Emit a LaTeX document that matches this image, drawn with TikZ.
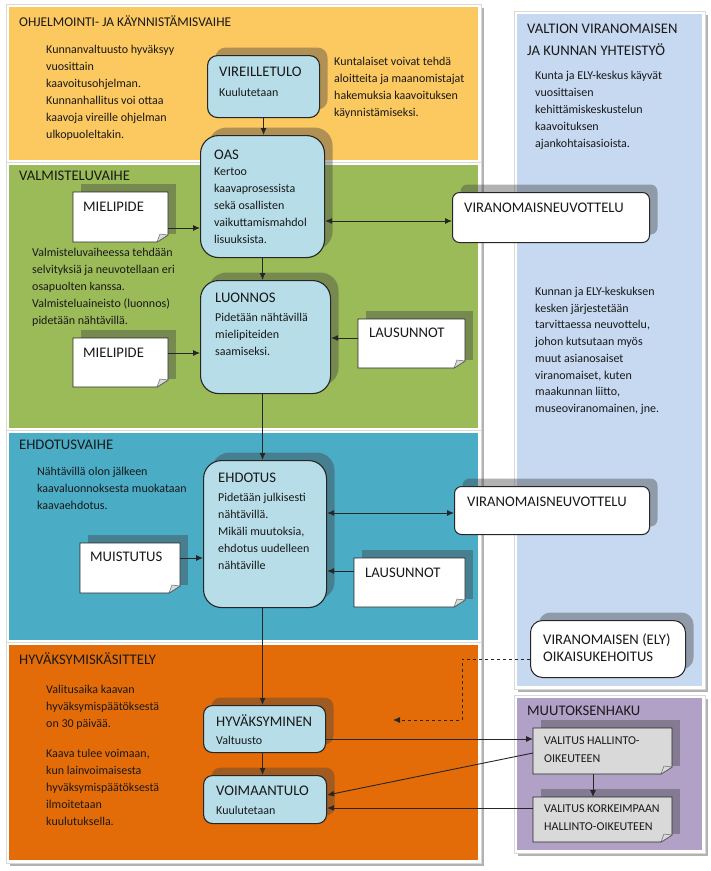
\documentclass[tikz,border=0pt]{standalone}
\usepackage{fontspec}
\setmainfont{Carlito}
\usetikzlibrary{arrows.meta,shadows}
\definecolor{cYel}{RGB}{252,200,96}
\definecolor{cGrn}{RGB}{155,187,89}
\definecolor{cTeal}{RGB}{75,172,198}
\definecolor{cOra}{RGB}{227,108,9}
\definecolor{cLB}{RGB}{198,217,241}
\definecolor{cPur}{RGB}{178,161,199}
\definecolor{cNode}{RGB}{183,221,232}
\definecolor{cNote}{RGB}{217,217,217}
\tikzset{
  every node/.style={inner sep=0pt, text=black!90},
  shd/.style={general shadow={fill=black!75, opacity=0.4, shadow xshift=8pt, shadow yshift=8pt}},
  procbox/.style={draw=black!85, line width=1.1pt, fill=cNode, anchor=north west, shd},
  whitebox/.style={draw=black!85, line width=1pt, fill=white, anchor=north west, shd},
  ttl/.style={font=\fontsize{14.67}{21}\selectfont, anchor=west},
  ntl/.style={font=\fontsize{14.67}{17}\selectfont, anchor=west},
  smalltxt/.style={font=\fontsize{12}{17}\selectfont, anchor=west},
  bodytxt/.style={font=\fontsize{12}{17}\selectfont, align=left, anchor=north west},
  arr/.style={-{Latex[length=7pt,width=6pt]}, line width=0.9pt, draw=black!85},
  darr/.style={{Latex[length=7pt,width=6pt]}-{Latex[length=7pt,width=6pt]}, line width=0.9pt, draw=black!85},
}
\newcommand\panelbox[5]{%
  \fill[black!30] (#1+1,#2+1) rectangle (#3+6,#4+6);
  \filldraw[fill=white, draw=black!15, line width=0.6pt] (#1-3,#2-3) rectangle (#3+3,#4+3);
  \fill[#5] (#1,#2) rectangle (#3,#4);
}
\newcommand\foldnote[6]{%
  \fill[black!75, opacity=0.4] (#2+8,#3-8) rectangle (#4+8,#5-8);
  \node[anchor=north west, minimum width={#4-#2}, minimum height={#5-#3}] (#1) at (#2,#3) {};
  \filldraw[fill=#6, draw=black!85, line width=0.9pt] (#2,#3) -- (#4,#3) -- (#4,#5-7) -- (#4-11,#5) -- (#2,#5) -- cycle;
  \filldraw[fill=black!15, draw=black!60, line width=0.5pt] (#4,#5-7) -- (#4-11,#5) -- (#4-8,#5-8) -- cycle;
}
\begin{document}
\begin{tikzpicture}[x=1pt,y=-1pt]
\useasboundingbox (0,0) rectangle (711,871);
\fill[white] (0,0) rectangle (711,871);
% panels
\panelbox{9}{7}{478}{160}{cYel}
\panelbox{9}{165}{478}{428}{cGrn}
\panelbox{9}{433}{478}{640}{cTeal}
\panelbox{9}{645}{478}{860}{cOra}
\panelbox{517}{14}{702}{686}{cLB}
\panelbox{517}{698}{702}{850}{cPur}
% process boxes
\node[procbox, rounded corners=10pt, minimum width=112pt, minimum height=62pt] (vir) at (207,55) {};
\node[procbox, rounded corners=18pt, minimum width=124pt, minimum height=122pt] (oas) at (200,135) {};
\node[procbox, rounded corners=18pt, minimum width=130pt, minimum height=113pt] (lu) at (200,280) {};
\node[procbox, rounded corners=18pt, minimum width=123pt, minimum height=147pt] (eh) at (203,460) {};
\node[procbox, rounded corners=9pt, minimum width=122pt, minimum height=47pt] (hy) at (203,705) {};
\node[procbox, rounded corners=9pt, minimum width=123pt, minimum height=48pt] (vo) at (203,775) {};
\node[whitebox, rounded corners=7pt, minimum width=197pt, minimum height=50pt] (vn1) at (452,192) {};
\node[whitebox, rounded corners=7pt, minimum width=195pt, minimum height=48pt] (vn2) at (454,486) {};
\node[whitebox, rounded corners=12pt, minimum width=155pt, minimum height=57pt] (ely) at (530,620) {};
% notes
\foldnote{mi1}{73}{192}{168}{242}{white}
\foldnote{mi2}{73}{338}{168}{387}{white}
\foldnote{la1}{358}{319}{465}{368}{white}
\foldnote{mu}{80}{543}{180}{593}{white}
\foldnote{la2}{354}{558}{465}{607}{white}
\foldnote{va1}{533}{728}{672}{774}{cNote}
\foldnote{va2}{533}{797}{672}{842}{cNote}
% connectors
\draw[arr] (vir.south) -- (vir.south |- oas.north);
\draw[arr] (mi1.east |- 0,228) -- (oas.west |- 0,228);
\draw[darr] (oas.east |- 0,221) -- (vn1.west |- 0,221);
\draw[arr] (oas.south) -- (oas.south |- lu.north);
\draw[arr] (mi2.east |- 0,353) -- (lu.west |- 0,353);
\draw[arr] (la1.west |- 0,338) -- (lu.east |- 0,338);
\draw[arr] (lu.south -| oas.south) -- (oas.south |- eh.north);
\draw[darr] (eh.east |- 0,513) -- (vn2.west |- 0,513);
\draw[arr] (mu.east |- 0,558) -- (eh.west |- 0,558);
\draw[arr] (la2.west |- 0,571) -- (eh.east |- 0,571);
\draw[arr] (eh.south -| oas.south) -- (oas.south |- hy.north);
\draw[arr] (hy.south -| oas.south) -- (oas.south |- vo.north);
\draw[arr] (hy.east |- 0,739) -- (va1.west |- 0,739);
\draw[arr] (va1.west |- 0,753) -- (vo.east |- 0,795);
\draw[arr] (va2.west |- 0,808) -- (vo.east |- 0,808);
\draw[arr] (va1.south -| 593,0) -- (va2.north -| 593,0);
\coordinate (dend) at (393,720);
\draw[arr, dashed, line width=0.8pt] (ely.west |- 0,659) -- (462,659) -- (462,720) -- (dend);
% panel titles
\node[ttl, font=\fontsize{13.4}{21}\selectfont] (tt1) at (19,21) {OHJELMOINTI- JA KÄYNNISTÄMISVAIHE};
\node[ttl] (tt2) at (19,176) {VALMISTELUVAIHE};
\node[ttl] (tt3) at (19,445) {EHDOTUSVAIHE};
\node[ttl] (tt4) at (19,659) {HYVÄKSYMISKÄSITTELY};
\node[ttl] (tt5a) at (527,29) {VALTION VIRANOMAISEN};
\node[ttl] (tt5b) at (527,50) {JA KUNNAN YHTEISTYÖ};
\node[ttl] (tt6) at (527,711) {MUUTOKSENHAKU};
% body texts
\node[bodytxt] (b1) at (46,45) {Kunnanvaltuusto hyväksyy\\vuosittain\\kaavoitusohjelman.\\Kunnanhallitus voi ottaa\\kaavoja vireille ohjelman\\ulkopuoleltakin.};
\node[bodytxt] (b2) at (334,57) {Kuntalaiset voivat tehdä\\aloitteita ja maanomistajat\\hakemuksia kaavoituksen\\käynnistämiseksi.};
\node[bodytxt] (b3) at (535,71) {Kunta ja ELY-keskus käyvät\\vuosittaisen\\kehittämiskeskustelun\\kaavoituksen\\ajankohtaisasioista.};
\node[bodytxt] (b4) at (32,248) {Valmisteluvaiheessa tehdään\\selvityksiä ja neuvotellaan eri\\osapuolten kanssa.\\Valmisteluaineisto (luonnos)\\pidetään nähtävillä.};
\node[bodytxt, font=\fontsize{12}{16.7}\selectfont] (b5) at (535,287) {Kunnan ja ELY-keskuksen\\kesken järjestetään\\tarvittaessa neuvottelu,\\johon kutsutaan myös\\muut asianosaiset\\viranomaiset, kuten\\maakunnan liitto,\\museoviranomainen, jne.};
\node[bodytxt] (b6) at (37,467) {Nähtävillä olon jälkeen\\kaavaluonnoksesta muokataan\\kaavaehdotus.};
\node[bodytxt] (b7) at (46,685) {Valitusaika kaavan\\hyväksymispäätöksestä\\on 30 päivää.};
\node[bodytxt] (b8) at (46,749) {Kaava tulee voimaan,\\kun lainvoimaisesta\\hyväksymispäätöksestä\\ilmoitetaan\\kuulutuksella.};
% node texts
\node[ntl] (virt) at (219,72) {VIREILLETULO};
\node[smalltxt] (virs) at (219,92) {Kuulutetaan};
\node[ntl] (oast) at (214,155) {OAS};
\node[bodytxt] (oass) at (214,168) {Kertoo\\kaavaprosessista\\sekä osallisten\\vaikuttamismahdol\\lisuuksista.};
\node[ntl] (lut) at (215,298) {LUONNOS};
\node[bodytxt] (lus) at (215,313) {Pidetään nähtävillä\\mielipiteiden\\saamiseksi.};
\node[ntl] (eht) at (218,478) {EHDOTUS};
\node[bodytxt] (ehs) at (218,493) {Pidetään julkisesti\\nähtävillä.\\Mikäli muutoksia,\\ehdotus uudelleen\\nähtäville};
\node[ntl] (hyt) at (216,721) {HYVÄKSYMINEN};
\node[smalltxt] (hys) at (216,740) {Valtuusto};
\node[ntl] (vot) at (216,791) {VOIMAANTULO};
\node[smalltxt] (vos) at (216,810) {Kuulutetaan};
\node[ntl] (vn1t) at (464,208) {VIRANOMAISNEUVOTTELU};
\node[ntl] (vn2t) at (467,502) {VIRANOMAISNEUVOTTELU};
\node[ntl] (mi1t) at (83,207) {MIELIPIDE};
\node[ntl] (mi2t) at (83,353) {MIELIPIDE};
\node[ntl] (la1t) at (369,333) {LAUSUNNOT};
\node[ntl] (la2t) at (365,573) {LAUSUNNOT};
\node[ntl] (mut) at (90,557) {MUISTUTUS};
\node[ntl] (elyt1) at (543,640) {VIRANOMAISEN (ELY)};
\node[ntl] (elyt2) at (543,657) {OIKAISUKEHOITUS};
\node[smalltxt] (va1t1) at (544,741) {VALITUS HALLINTO-};
\node[smalltxt] (va1t2) at (544,759) {OIKEUTEEN};
\node[smalltxt] (va2t1) at (544,809) {VALITUS KORKEIMPAAN};
\node[smalltxt] (va2t2) at (544,827) {HALLINTO-OIKEUTEEN};
\end{tikzpicture}
\end{document}
